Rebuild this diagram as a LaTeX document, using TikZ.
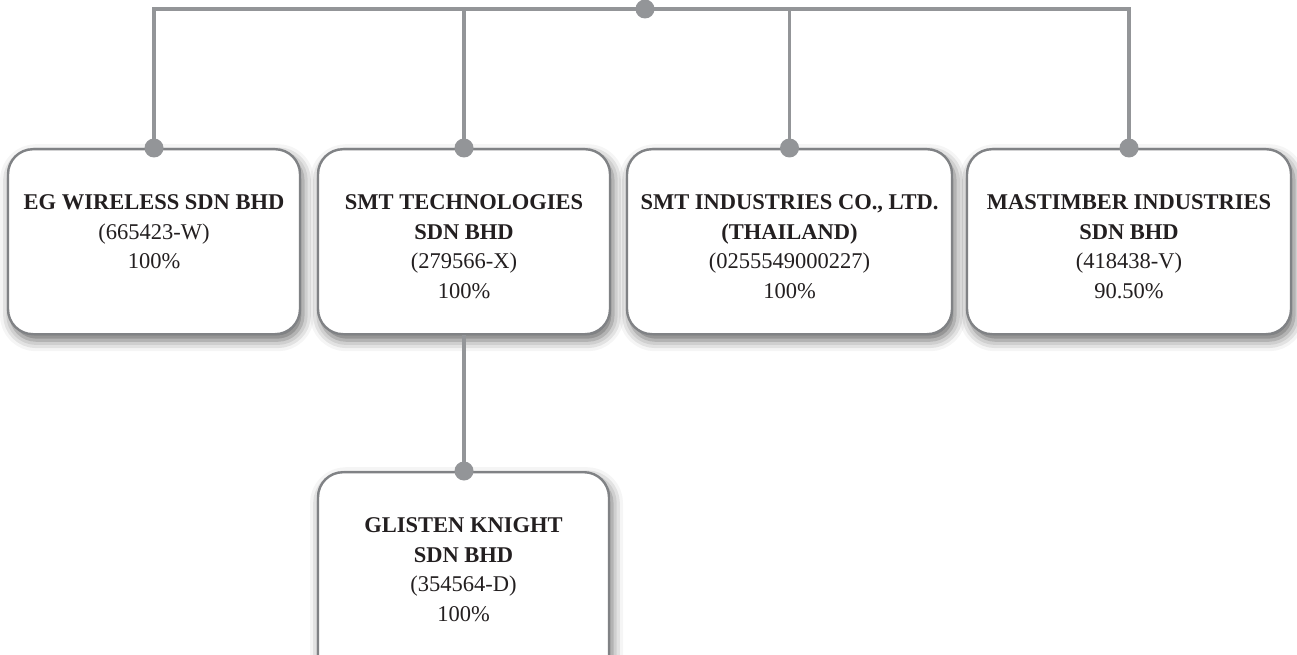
\documentclass[tikz,border=0pt]{standalone}
\usepackage{fontspec}
\setmainfont{Liberation Serif}
\usetikzlibrary{shadows.blur}
\definecolor{linegray}{RGB}{147,149,152}
\definecolor{boxgray}{RGB}{128,130,133}
\definecolor{txt}{RGB}{35,31,32}
\begin{document}
\begin{tikzpicture}[x=1pt,y=-1pt,
  entity/.style={draw=boxgray, line width=2.4pt, fill=white, rounded corners=25pt,
    minimum height=185pt, inner sep=0pt, anchor=north,
    blur shadow={shadow xshift=3pt, shadow yshift=-6pt, shadow blur radius=11pt, shadow opacity=60}},
  boxtext/.style={anchor=north, align=center, inner sep=0pt, text=txt,
    font=\fontsize{22.5}{29.5}\selectfont},
  link/.style={draw=linegray, line width=3.2pt},
  joint/.style={circle, fill=linegray, minimum size=19pt, inner sep=0pt}]
\useasboundingbox (0,0) rectangle (1297,655);
\clip (0,0) rectangle (1297,655);

% boxes
\node[entity, minimum width=292pt] (b1) at (154,148) {};
\node[entity, minimum width=292pt] (b2) at (464,148) {};
\node[entity, minimum width=325pt] (b3) at (789.5,148) {};
\node[entity, minimum width=324pt] (b4) at (1129,148) {};
\node[entity, minimum width=291pt, minimum height=240pt] (b5) at (463.5,471) {};

% texts
\node[boxtext] (t1) at ([yshift=-41pt]b1.north) {\strut\textbf{EG WIRELESS SDN BHD}\\(665423-W)\\100\%};
\node[boxtext] (t2) at ([yshift=-41pt]b2.north) {\strut\textbf{SMT TECHNOLOGIES}\\\textbf{SDN BHD}\\(279566-X)\\100\%};
\node[boxtext] (t3) at ([yshift=-41pt]b3.north) {\strut\textbf{SMT INDUSTRIES CO., LTD.}\\\textbf{(THAILAND)}\\(0255549000227)\\100\%};
\node[boxtext] (t4) at ([yshift=-41pt]b4.north) {\strut\textbf{MASTIMBER INDUSTRIES}\\\textbf{SDN BHD}\\(418438-V)\\90.50\%};
\node[boxtext] (t5) at ([yshift=-41pt]b5.north) {\strut\textbf{GLISTEN KNIGHT}\\\textbf{SDN BHD}\\(354564-D)\\100\%};

% connectors
\coordinate (hubpt) at (645,9);
\draw[link] (b1.north) -- (b1.north |- hubpt) -- (b4.north |- hubpt) -- (b4.north);
\draw[link] (b2.north) -- (b2.north |- hubpt);
\draw[link] (b3.north) -- (b3.north |- hubpt);
\draw[link] (b2.south) -- (b2.south |- b5.north);

% joints
\node[joint] (hub) at (hubpt) {};
\node[joint] (j1) at (b1.north) {};
\node[joint] (j2) at (b2.north) {};
\node[joint] (j3) at (b3.north) {};
\node[joint] (j4) at (b4.north) {};
\node[joint] (j5) at (b2.south |- b5.north) {};
\end{tikzpicture}
\end{document}
